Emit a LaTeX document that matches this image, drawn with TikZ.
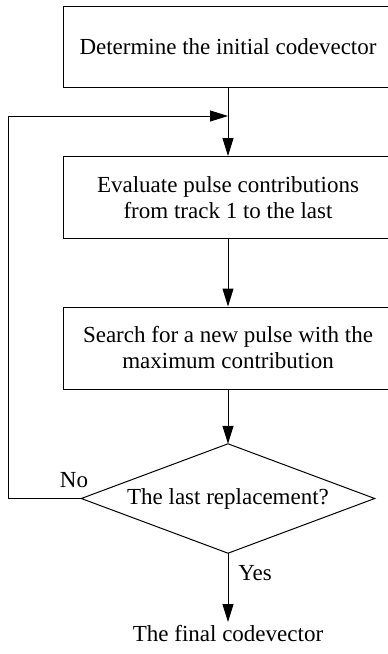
\documentclass[tikz,border=0pt]{standalone}
\usepackage{fontspec}
\setmainfont{Liberation Serif}
\usetikzlibrary{arrows.meta}
\begin{document}
\begin{tikzpicture}[x=1pt,y=-1pt,
  every node/.style={font=\fontsize{23}{26}\selectfont, text=black},
  procbox/.style={draw, rectangle, line width=1pt, minimum width=330pt, minimum height=81pt, align=center, inner sep=0pt},
  flow/.style={line width=1pt, -{Triangle[length=18pt,width=11pt]}},
  plain/.style={line width=1pt}]
  \useasboundingbox (0,0) rectangle (388,654);
  \clip (0,0) rectangle (388,654);
  % process boxes
  \node[procbox] (init) at (228,46.5) {Determine the initial codevector};
  \node[procbox, minimum height=82pt] (eval) at (228,197.5) {Evaluate pulse contributions\\from track 1 to the last};
  \node[procbox, minimum height=82pt] (search) at (228,348) {Search for a new pulse with the\\maximum contribution};
  % decision
  \node[rectangle, minimum width=293pt, minimum height=109pt, inner sep=0pt] (dec) at (228,498.5) {The last replacement?};
  \draw[plain] (dec.north) -- (dec.east) -- (dec.south) -- (dec.west) -- cycle;
  % result
  \node[anchor=north, inner sep=3pt] (final) at (228,622) {The final codevector};
  % connectors
  \coordinate (join) at (228,116);
  \coordinate (loopdown) at (8,498.5);
  \coordinate (loopup) at (8,116);
  \draw[flow] (init.south) -- (eval.north);
  \draw[flow] (eval.south) -- (search.north);
  \draw[flow] (search.south) -- (dec.north);
  \draw[flow] (dec.south) -- (final.north);
  \draw[flow] (dec.west) -- (loopdown) -- (loopup) -- (join);
  % branch labels
  \node (no) at (74,480) {No};
  \node (yes) at (255,573) {Yes};
\end{tikzpicture}
\end{document}
